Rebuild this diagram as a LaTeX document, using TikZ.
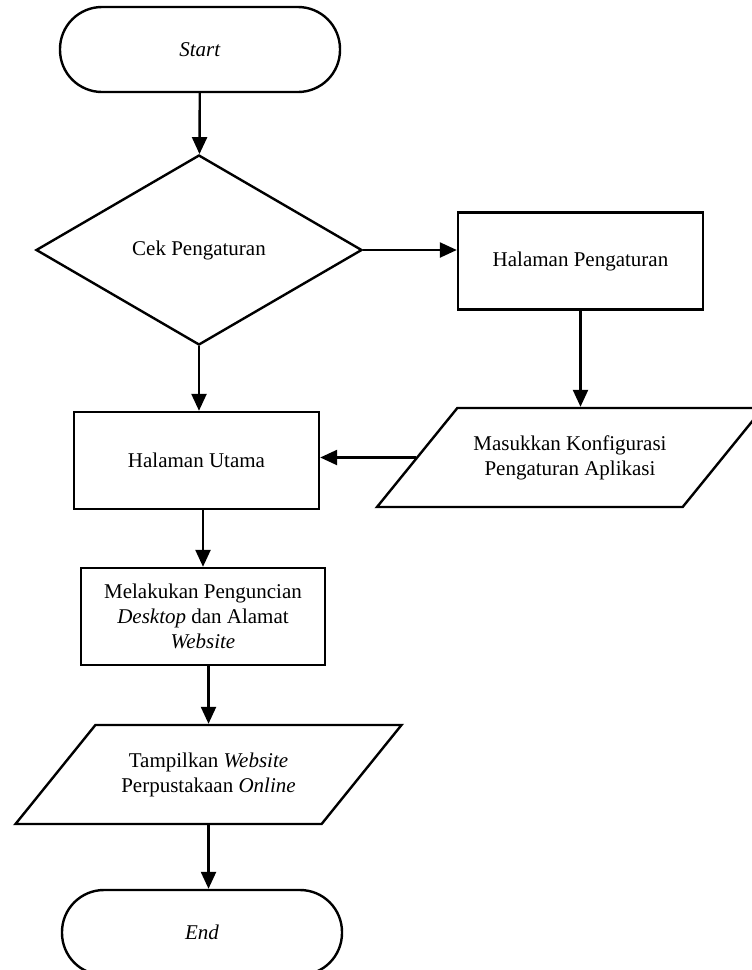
\documentclass[tikz,border=0pt]{standalone}
\usepackage{fontspec}
\setmainfont{Liberation Serif}
\usetikzlibrary{shapes.geometric,arrows.meta}

\begin{document}
\begin{tikzpicture}[x=1pt,y=-1pt]
\tikzstyle{every node}=[font=\fontsize{21}{25}\selectfont]
\tikzstyle{terminal}=[draw,line width=2.4pt,rectangle,rounded corners=42pt,minimum width=280pt,minimum height=85pt]
\tikzstyle{proses}=[draw,line width=2.4pt,rectangle,minimum width=245pt,minimum height=97pt,align=center]
\tikzstyle{keputusan}=[draw,line width=2.4pt,diamond,minimum width=326pt,minimum height=190pt,inner sep=0pt]
\tikzstyle{masukan}=[draw,line width=2.4pt,trapezium,trapezium left angle=32.4,trapezium right angle=147.6,trapezium stretches body,minimum width=386pt,minimum height=99pt,align=center]
\tikzstyle{panah}=[-{Triangle[length=17pt,width=15pt]},line width=2.4pt]
\clip (0,0) rectangle (752,970);

\node[terminal] (mulai) at (200,49.5) {\textit{Start}};
\node[keputusan] (cek) at (199,250) {Cek Pengaturan};
\node[proses] (pengaturan) at (580.5,261) {Halaman Pengaturan};
\node[masukan] (konfigurasi) at (570,457.5) {Masukkan Konfigurasi\\Pengaturan Aplikasi};
\node[proses] (utama) at (196.5,460.5) {Halaman Utama};
\node[proses,minimum width=244pt] (kunci) at (203,616.5) {Melakukan Penguncian\\\textit{Desktop} dan Alamat\\\textit{Website}};
\node[masukan] (tampil) at (208.5,774.5) {Tampilkan \textit{Website}\\Perpustakaan \textit{Online}};
\node[terminal] (selesai) at (202,932.5) {\textit{End}};

\draw[panah] (mulai) -- (cek);
\draw[panah] (cek.east) -- (cek.east -| pengaturan.west);
\draw[panah] (pengaturan.south) -- (pengaturan.south |- konfigurasi.north);
\draw[panah] (konfigurasi.west) -- (konfigurasi.west -| utama.east);
\draw[panah] (cek.south) -- (cek.south |- utama.north);
\draw[panah] (kunci.north |- utama.south) -- (kunci.north);
\draw[panah] (tampil.north |- kunci.south) -- (tampil.north);
\draw[panah] (tampil.south) -- (tampil.south |- selesai.north);

\end{tikzpicture}
\end{document}
